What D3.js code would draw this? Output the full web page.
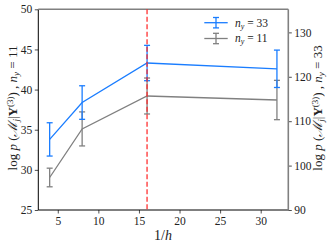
<!DOCTYPE html>
<html>
<head>
<meta charset="utf-8">
<script src="https://cdn.jsdelivr.net/npm/d3@7"></script>
<style>
  body { margin: 0; background: #fff; }
  svg { display: block; font-family: 'Liberation Serif', 'DejaVu Serif', serif; }
  .tick text { font-size: 11.5px; fill: #222; }
</style>
</head>
<body>
<svg></svg>
<script>
const hInv = [4, 8, 16, 32];

// n_y = 11 (grey, left axis)
const lp11 = [29.05, 35.1, 39.2, 38.7];
const err11 = [1.16, 2.12, 2.24, 2.45];

// n_y = 33 (blue, right axis)
const lp33 = [105.9, 114.2, 123.1, 121.8];
const err33 = [3.75, 3.78, 3.98, 4.21];

const xTicks = [5, 10, 15, 20, 25, 30];
const leftTicks = [25, 30, 35, 40, 45, 50];
const rightTicks = [90, 100, 110, 120, 130];
const refLine = 16;

const width = 332;
const height = 248;
const plotL = 38.3, plotR = 288.3, plotT = 9.3, plotB = 210;

const blue = '#1a7dff';
const grey = '#808080';

const svg = d3.select('svg').attr('width', width).attr('height', height);

const xScale = d3.scaleLinear().domain([2.6, 33.4]).range([plotL, plotR]);
const yLeft = d3.scaleLinear().domain([25, 50]).range([plotB, plotT]);
const yRight = d3.scaleLinear().domain([90, 135.2]).range([plotB, plotT]);

// axes
const styleAxis = (g) => {
  g.select('.domain').remove();
  g.selectAll('.tick line').attr('stroke', '#222').attr('stroke-width', 0.8);
  g.selectAll('.tick text').attr('font-family', "'Liberation Serif', serif");
};

svg.append('g')
  .attr('transform', 'translate(0,' + plotB + ')')
  .call(d3.axisBottom(xScale).tickValues(xTicks).tickSize(3.5).tickPadding(3))
  .call(styleAxis);

svg.append('g')
  .attr('transform', 'translate(' + plotL + ',0)')
  .call(d3.axisLeft(yLeft).tickValues(leftTicks).tickSize(3.5).tickPadding(2.5))
  .call(styleAxis);

svg.append('g')
  .attr('transform', 'translate(' + plotR + ',0)')
  .call(d3.axisRight(yRight).tickValues(rightTicks).tickSize(3.5).tickPadding(2.5))
  .call(styleAxis);

// spines
svg.append('line').attr('x1', plotL).attr('x2', plotL).attr('y1', plotT).attr('y2', plotB)
  .attr('stroke', '#000').attr('stroke-width', 1);
svg.append('line').attr('x1', plotL).attr('x2', plotR).attr('y1', plotB).attr('y2', plotB)
  .attr('stroke', '#000').attr('stroke-width', 1);
svg.append('line').attr('x1', plotL).attr('x2', plotR).attr('y1', plotT).attr('y2', plotT)
  .attr('stroke', grey).attr('stroke-width', 1.6);
svg.append('line').attr('x1', plotR).attr('x2', plotR).attr('y1', plotT).attr('y2', plotB)
  .attr('stroke', grey).attr('stroke-width', 1.6);

// series with error bars
const drawSeries = (vals, errs, yScale, color) => {
  const line = d3.line().x((d, i) => xScale(hInv[i])).y((d) => yScale(d));
  svg.append('path').datum(vals).attr('d', line)
    .attr('fill', 'none').attr('stroke', color).attr('stroke-width', 1.3);
  const g = svg.append('g').selectAll('g').data(vals).enter().append('g');
  g.append('line')
    .attr('x1', (d, i) => xScale(hInv[i])).attr('x2', (d, i) => xScale(hInv[i]))
    .attr('y1', (d, i) => yScale(d - errs[i])).attr('y2', (d, i) => yScale(d + errs[i]))
    .attr('stroke', color).attr('stroke-width', 1.3);
  [-1, 1].forEach((s) => {
    g.append('line')
      .attr('x1', (d, i) => xScale(hInv[i]) - 3).attr('x2', (d, i) => xScale(hInv[i]) + 3)
      .attr('y1', (d, i) => yScale(d + s * errs[i])).attr('y2', (d, i) => yScale(d + s * errs[i]))
      .attr('stroke', color).attr('stroke-width', 1.3);
  });
};

drawSeries(lp11, err11, yLeft, grey);
drawSeries(lp33, err33, yRight, blue);

// reference line
svg.append('line')
  .attr('x1', xScale(refLine)).attr('x2', xScale(refLine))
  .attr('y1', plotT).attr('y2', plotB)
  .attr('stroke', '#ff2020').attr('stroke-opacity', 0.8)
  .attr('stroke-width', 1.5).attr('stroke-dasharray', '5,2.5');

// legend
const legend = [
  { label: '33', color: blue, y: 22.7 },
  { label: '11', color: grey, y: 38.5 },
];
legend.forEach((d) => {
  const lg = svg.append('g');
  lg.append('line').attr('x1', 204.3).attr('x2', 227.7).attr('y1', d.y).attr('y2', d.y)
    .attr('stroke', d.color).attr('stroke-width', 1.3);
  lg.append('line').attr('x1', 216).attr('x2', 216).attr('y1', d.y - 5.2).attr('y2', d.y + 5.2)
    .attr('stroke', d.color).attr('stroke-width', 1.3);
  [-5.2, 5.2].forEach((o) => {
    lg.append('line').attr('x1', 213).attr('x2', 219).attr('y1', d.y + o).attr('y2', d.y + o)
      .attr('stroke', d.color).attr('stroke-width', 1.3);
  });
  const t = lg.append('text').attr('x', 235).attr('y', d.y + 3.8)
    .attr('font-size', 11.5).attr('fill', '#222');
  t.append('tspan').attr('font-style', 'italic').text('n');
  t.append('tspan').attr('font-style', 'italic').attr('font-size', 8).attr('dy', 2).text('y');
  t.append('tspan').attr('dy', -2).text(' = ' + d.label);
});

// axis labels
svg.append('text').attr('x', 163).attr('y', 240).attr('text-anchor', 'middle')
  .attr('font-size', 14).attr('fill', '#222')
  .call((t) => {
    t.append('tspan').text('1/');
    t.append('tspan').attr('font-style', 'italic').text('h');
  });

const yLabel = (x, n) => {
  const t = svg.append('text')
    .attr('transform', 'translate(' + x + ',108) rotate(-90)')
    .attr('text-anchor', 'middle').attr('font-size', 13).attr('fill', '#222');
  t.append('tspan').text('log ');
  t.append('tspan').attr('font-style', 'italic').text('p');
  t.append('tspan').text(' (');
  t.append('tspan').attr('font-style', 'italic').text('\u2133');
  t.append('tspan').attr('font-style', 'italic').attr('font-size', 9).attr('dy', 2).text('j');
  t.append('tspan').attr('dy', -2).text('|');
  t.append('tspan').attr('font-weight', 'bold').text('Y');
  t.append('tspan').attr('font-size', 9).attr('dy', -4.5).text('(3)');
  t.append('tspan').attr('dy', 4.5).text(') , ');
  t.append('tspan').attr('font-style', 'italic').text('n');
  t.append('tspan').attr('font-style', 'italic').attr('font-size', 9).attr('dy', 2).text('y');
  t.append('tspan').attr('dy', -2).text(' = ' + n);
};
yLabel(17, '11');
yLabel(322, '33');
</script>
</body>
</html>
